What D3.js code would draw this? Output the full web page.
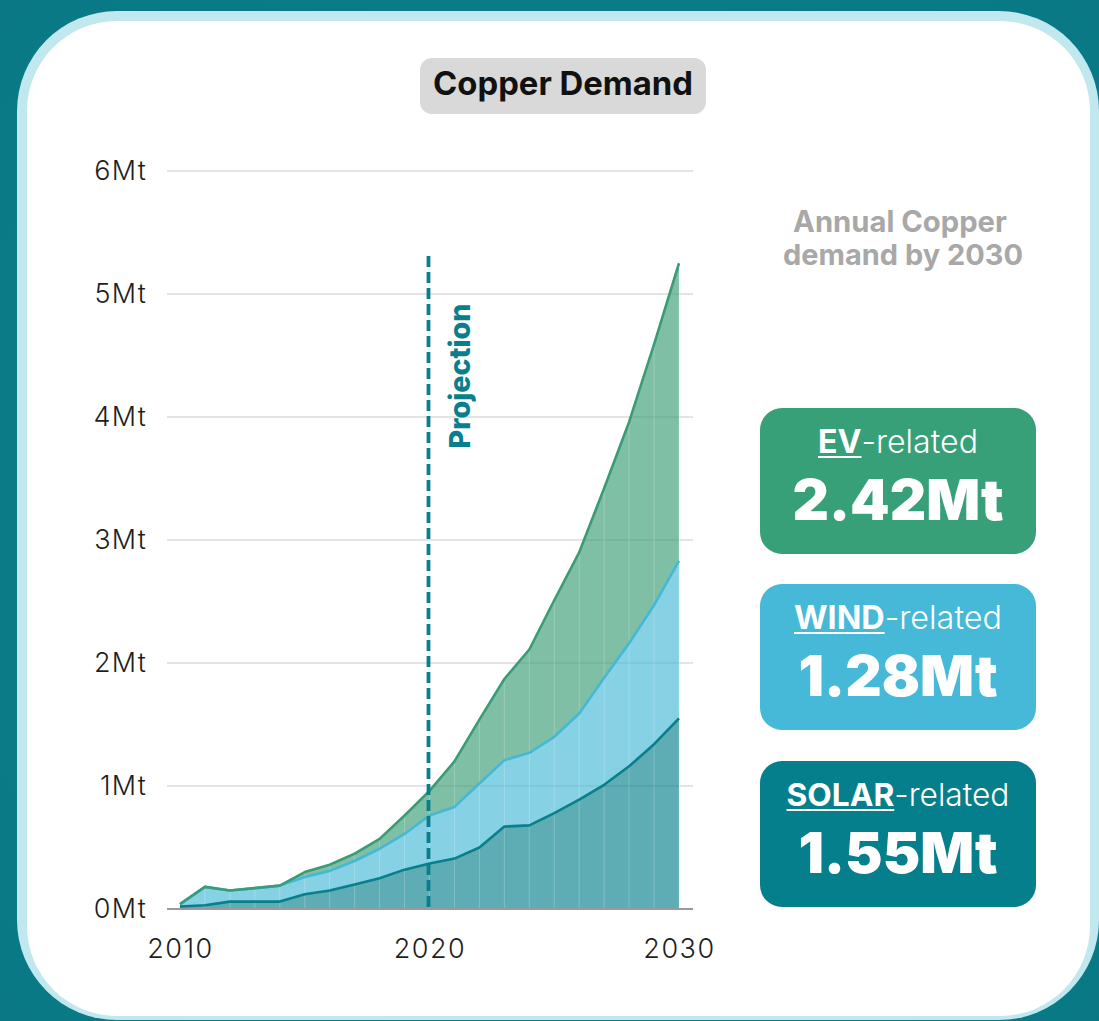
<!DOCTYPE html>
<html><head><meta charset="utf-8">
<script src="https://cdn.jsdelivr.net/npm/d3@7"></script>
<style>
html,body{margin:0;padding:0;background:#0b7b87;}
svg{display:block;}
</style></head>
<body>
<svg id="chart" width="1099" height="1021"></svg>
<script>
// ---- data ----
const years = d3.range(2010, 2031);
const solar = [0.02,0.03,0.06,0.06,0.06,0.12,0.15,0.20,0.25,0.32,0.37,0.41,0.50,0.67,0.68,0.78,0.89,1.01,1.16,1.34,1.55];
const wind  = [0.02,0.15,0.09,0.11,0.13,0.14,0.16,0.19,0.24,0.29,0.39,0.42,0.52,0.54,0.59,0.62,0.70,0.87,1.00,1.13,1.28];
const ev    = [0.00,0.00,0.00,0.00,0.00,0.04,0.05,0.06,0.08,0.15,0.20,0.37,0.52,0.66,0.84,1.11,1.31,1.54,1.80,2.12,2.42];
const seriesKeys = ["solar","wind","ev"];
const yTicks = [0,1,2,3,4,5,6];
const xTicks = [2010,2020,2030];
const projectionYear = 2020;
const cards = [
  {key:"ev",    bold:"EV",    rest:"-related", value:"2.42Mt"},
  {key:"wind",  bold:"WIND",  rest:"-related", value:"1.28Mt"},
  {key:"solar", bold:"SOLAR", rest:"-related", value:"1.55Mt"}
];
const title = "Copper Demand";
const sideTitle = ["Annual Copper","demand by 2030"];

// ---- styles ----
const lineColor = {solar:"#087f8c", wind:"#45b8d6", ev:"#3a9c76"};
const cardColor = {solar:"#067f8c", wind:"#45b9d7", ev:"#37a078"};
const FONT = "Inter, 'Noto Sans', sans-serif";

const svg = d3.select("#chart");

// background
const defs = svg.append("defs");
const bg = defs.append("radialGradient").attr("id","bgGrad").attr("cx","50%").attr("cy","50%").attr("r","75%");
bg.append("stop").attr("offset","0%").attr("stop-color","#0d828e");
bg.append("stop").attr("offset","100%").attr("stop-color","#097884");
svg.append("rect").attr("width",1099).attr("height",1021).attr("fill","url(#bgGrad)");

// card
svg.append("rect").attr("x",17).attr("y",11).attr("width",1082).attr("height",1009)
  .attr("rx",100).attr("ry",100).attr("fill","#c0e8ee");
svg.append("rect").attr("x",27).attr("y",21).attr("width",1063).attr("height",995)
  .attr("rx",90).attr("ry",90).attr("fill","#ffffff");

function fitText(sel, targetW){
  const w = sel.node().getComputedTextLength();
  const fs = parseFloat(sel.attr("font-size"));
  sel.attr("font-size", fs*targetW/w);
  return sel;
}

// title pill
svg.append("rect").attr("x",420).attr("y",58).attr("width",286).attr("height",56)
  .attr("rx",12).attr("fill","#d9d9d9");
fitText(svg.append("text").attr("x",563).attr("y",95).attr("text-anchor","middle")
  .attr("font-family",FONT).attr("font-weight",700).attr("font-size",27)
  .attr("fill","#111").text(title), 260);

// scales
const x = d3.scaleLinear().domain([2010,2030]).range([180,679]);
const y = d3.scaleLinear().domain([0,6]).range([909,171]);

// gridlines
const g = svg.append("g");
g.selectAll("line.grid").data(yTicks.filter(d=>d>0)).join("line")
  .attr("x1",167).attr("x2",693).attr("y1",d=>y(d)).attr("y2",d=>y(d))
  .attr("stroke","#c9c9c9").attr("stroke-width",1.2);

// stack
const rows = years.map((yr,i)=>({year:yr, solar:solar[i], wind:wind[i], ev:ev[i]}));
const stack = d3.stack().keys(seriesKeys)(rows);
const area = d3.area().x(d=>x(d.data.year)).y0(d=>y(d[0])).y1(d=>y(d[1]));
const line = d3.line().x(d=>x(d.data.year)).y(d=>y(d[1]));

g.selectAll("path.area").data(stack).join("path")
  .attr("d",area).attr("fill",d=>lineColor[d.key]).attr("fill-opacity",0.65);

// year separators
g.selectAll("line.sep").data(rows).join("line")
  .attr("x1",d=>x(d.year)).attr("x2",d=>x(d.year))
  .attr("y1",y(0)).attr("y2",d=>y(d.solar+d.wind+d.ev))
  .attr("stroke","#ffffff").attr("stroke-opacity",0.22).attr("stroke-width",1);

g.selectAll("path.line").data(stack).join("path")
  .attr("d",line).attr("fill","none").attr("stroke",d=>lineColor[d.key])
  .attr("stroke-width",2.6).attr("stroke-linejoin","round");

// baseline
g.append("line").attr("x1",167).attr("x2",693).attr("y1",y(0)).attr("y2",y(0))
  .attr("stroke","#9a9a9a").attr("stroke-width",2);

// axes
const yAxis = svg.append("g").attr("transform","translate(167,0)")
  .call(d3.axisLeft(y).tickValues(yTicks).tickFormat(d=>d+"Mt").tickSize(0).tickPadding(20));
yAxis.select(".domain").remove();
yAxis.selectAll("text").attr("font-family",FONT).attr("font-size",27).attr("fill","#1e1e1e")
  .attr("font-weight",350).attr("letter-spacing","1.2px");

const xAxis = svg.append("g").attr("transform",`translate(0,${y(0)})`)
  .call(d3.axisBottom(x).tickValues(xTicks).tickFormat(d3.format("d")).tickSize(0).tickPadding(30));
xAxis.select(".domain").remove();
xAxis.selectAll("text").attr("font-family",FONT).attr("font-size",27).attr("fill","#1e1e1e")
  .attr("font-weight",350).attr("letter-spacing","1.5px");

// projection line
svg.append("line").attr("x1",x(projectionYear)-1).attr("x2",x(projectionYear)-1)
  .attr("y1",256).attr("y2",y(0))
  .attr("stroke","#087f8c").attr("stroke-width",3.8).attr("stroke-dasharray","11,5");
fitText(svg.append("text").attr("transform",`translate(470,376) rotate(-90)`)
  .attr("text-anchor","middle").attr("font-family",FONT).attr("font-weight",800)
  .attr("font-size",22).attr("fill","#087f8c").text("Projection"), 145);

// side title
const st = svg.append("g");
fitText(st.append("text").attr("x",900).attr("y",232).attr("text-anchor","middle")
  .attr("font-family",FONT).attr("font-weight",700).attr("font-size",24).attr("fill","#a8a8a8")
  .text(sideTitle[0]), 214);
fitText(st.append("text").attr("x",903).attr("y",265).attr("text-anchor","middle")
  .attr("font-family",FONT).attr("font-weight",700).attr("font-size",24).attr("fill","#a8a8a8")
  .text(sideTitle[1]), 240);

// cards
const cardTop = [408,584,761];
const labelW = {ev:160, wind:208, solar:223};
const valueW = {ev:211, wind:199, solar:199};
cards.forEach((c,i)=>{
  const top = cardTop[i];
  svg.append("rect").attr("x",760).attr("y",top).attr("width",276).attr("height",146)
    .attr("rx",22).attr("fill",cardColor[c.key]);
  const t = svg.append("text").attr("x",898).attr("y",top+45).attr("text-anchor","middle")
    .attr("font-family",FONT).attr("font-size",26).attr("fill","#ffffff");
  const b = t.append("tspan").attr("font-weight",700).text(c.bold);
  t.append("tspan").attr("font-weight",300).text(c.rest);
  fitText(t, labelW[c.key]);
  const tb = t.node().getBBox();
  const bw = b.node().getComputedTextLength();
  svg.append("line").attr("x1",tb.x).attr("x2",tb.x+bw)
    .attr("y1",top+49).attr("y2",top+49).attr("stroke","#fff").attr("stroke-width",2);
  fitText(svg.append("text").attr("x",898).attr("y",top+112).attr("text-anchor","middle")
    .attr("font-family",FONT).attr("font-weight",900).attr("font-size",56).attr("fill","#ffffff")
    .text(c.value), valueW[c.key]);
});
</script>
</body></html>
